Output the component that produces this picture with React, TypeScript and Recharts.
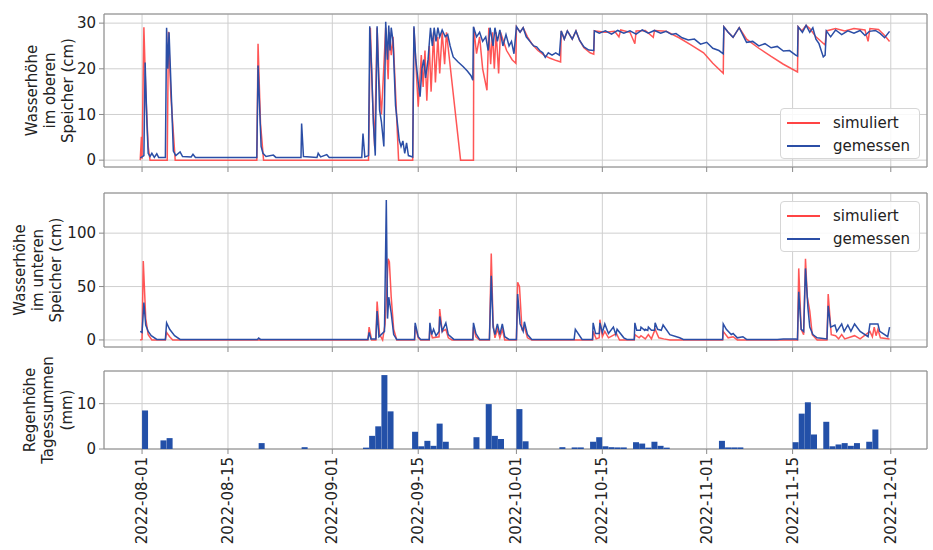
import { LineChart, Line, BarChart, Bar, XAxis, YAxis, CartesianGrid, ReferenceArea } from 'recharts';

const FONT = '"DejaVu Sans", sans-serif';
const RED = '#ff4444';
const BLUE = '#2b4ea6';
const GRID = '#cfcfcf';
const FRAME = '#8a8a8a';
const TEXT = '#222';

// x axis = days since 2022-08-01
const xDomain = [-6.2, 127.9];
const tickDays = [0, 14, 31, 45, 61, 75, 92, 106, 122];
const tickLabels = ['2022-08-01', '2022-08-15', '2022-09-01', '2022-09-15', '2022-10-01', '2022-10-15', '2022-11-01', '2022-11-15', '2022-12-01'];

const legendNames = ['simuliert', 'gemessen'];

// oberer Speicher (cm), [day, value]
const upperSim: [number, number][] = [
  [-0.3, 0], [-0.1, 5.1], [0, 0.3], [0.3, 29.1], [0.6, 15], [1, 3], [1.3, 0], [4.1, 0], [4.3, 28.1], [4.7, 14], [5.4, 0],
  [18.7, 0], [18.9, 25.5], [19.3, 8], [19.8, 0], [36.9, 0], [37.2, 29], [37.6, 12], [37.9, 3], [38.3, 29], [38.6, 18],
  [39, 10], [39.3, 17.8], [39.7, 29], [40.1, 17.7], [40.3, 28], [40.6, 23], [40.9, 27], [41.8, 0], [44.1, 0], [44.3, 29],
  [45, 11.7], [45.5, 23], [45.8, 16], [46.1, 24], [46.4, 13], [46.8, 25], [47.1, 15], [47.5, 28], [47.8, 17], [48.2, 27],
  [48.5, 19], [48.9, 28], [49.3, 21], [49.6, 28], [51.9, 0], [54, 0], [54.05, 29], [54.5, 23.3], [55, 27], [55.5, 20],
  [56.2, 15.3], [56.5, 29], [56.8, 21], [57.1, 28], [57.4, 20], [57.7, 28], [58.1, 19], [58.4, 28], [59.4, 24], [60.3, 22],
  [60.9, 21.2], [61, 29.2], [61.6, 28], [62.1, 29], [62.8, 27], [63.5, 25.5], [64.5, 24], [65.5, 23], [66.5, 22.3],
  [67.5, 21.8], [68.2, 21.5], [68.3, 28.3], [68.8, 26.5], [69.3, 28.3], [70.1, 26.5], [70.7, 28.3], [71.3, 26.2], [72, 24.6],
  [73, 23.5], [73.6, 23.2], [73.7, 28.3], [75.5, 28], [77, 28.2], [77.7, 27], [78, 28.5], [79.5, 28], [80.3, 25.5],
  [80.5, 28.3], [82, 28.4], [83.3, 26.9], [83.5, 28.4], [85.4, 28.2], [87.5, 26.8], [89.5, 25.2], [91.5, 23.5], [93, 21.2],
  [94.7, 19], [94.8, 29.2], [95.5, 28], [96.3, 26.9], [97.3, 29], [98.5, 26.5], [100.5, 24.5], [102.5, 22.7], [104.5, 21],
  [106.8, 19.3], [106.9, 29.2], [107.5, 28.3], [108.2, 29.5], [108.8, 28.8], [109.8, 27], [111.3, 25.2], [111.5, 28.3],
  [113, 28.8], [114.5, 28.3], [116, 28.8], [117.8, 28.5], [118.3, 26], [118.6, 28.8], [120, 28.6], [121, 27.3], [121.8, 26],
];

const upperMeas: [number, number][] = [
  [-0.3, 0.5], [0, 0.7], [0.3, 1], [0.5, 21.4], [0.8, 8], [1, 1.5], [1.3, 0.8], [1.6, 1.5], [2, 0.6], [2.4, 1.4], [2.7, 0.6],
  [3.8, 0.6], [4, 29], [4.2, 20], [4.4, 28], [5.1, 2], [5.5, 1], [6.2, 1.8], [6.6, 0.8], [8, 0.7], [8.3, 1.3], [8.7, 0.6],
  [18.7, 0.6], [18.9, 20.7], [19.4, 3], [19.7, 1.5], [20.2, 0.8], [21.4, 1.1], [21.8, 0.6], [25.9, 0.6], [26, 8], [26.3, 0.8],
  [28.5, 0.6], [28.7, 1.5], [29.1, 0.7], [30.1, 1.2], [30.5, 0.6], [35.8, 0.6], [36, 5.8], [36.3, 0.7], [36.9, 1],
  [37.1, 29.3], [37.4, 20], [37.7, 8], [38, 1], [38.3, 29.3], [38.7, 11], [39, 8.4], [39.4, 3], [39.7, 30.3], [40, 22],
  [40.2, 29.5], [40.4, 24], [40.6, 29], [40.9, 26], [41.3, 12], [41.9, 4.4], [42.2, 3], [42.5, 4.2], [42.8, 1.5], [43.1, 3.8],
  [43.4, 1], [44.1, 0.7], [44.3, 29.3], [44.6, 22], [45, 17], [45.3, 13.9], [45.6, 20], [45.9, 22], [46.2, 18], [46.6, 22],
  [47, 29], [47.3, 25], [47.6, 29], [47.9, 26], [48.2, 29], [48.5, 27], [48.9, 28.5], [49.4, 27], [49.8, 27.5], [50.2, 25],
  [50.7, 22.6], [51.5, 21.5], [52.3, 20.5], [53, 19.5], [53.6, 18.5], [53.9, 17.5], [54, 29.2], [54.5, 27], [55, 28],
  [55.5, 26], [56, 27], [56.4, 24], [56.7, 29], [57.2, 25], [57.5, 29], [57.9, 26], [58.3, 28.5], [58.8, 25], [59.3, 27.5],
  [59.8, 25], [60.2, 26], [60.6, 23.3], [61, 29.2], [61.6, 28], [62.1, 29], [62.6, 27], [63.2, 26], [63.8, 25], [64.3, 24.8],
  [64.8, 24], [65.3, 23.5], [65.7, 22.5], [66.2, 23.5], [66.8, 23], [67.4, 23.5], [68, 23], [68.3, 28.3], [68.8, 26.5],
  [69.3, 28.3], [70.1, 26.5], [70.7, 28.3], [71.3, 26.2], [72, 24.8], [72.8, 24.1], [73.6, 24], [73.7, 28.3], [74.5, 27.8],
  [75.5, 28.3], [76.5, 27.6], [77.5, 28.4], [78.5, 27.8], [79.5, 28.3], [80.5, 27.6], [81.5, 28.5], [82.5, 27.8], [83.5, 28.4],
  [84.5, 27.8], [85.4, 28.2], [86.3, 27.5], [87, 27.7], [88, 26.8], [89, 26.3], [90, 26.5], [91, 25.4], [92, 25.8], [93, 24.5],
  [94, 24], [94.7, 23.3], [94.8, 29.2], [95.5, 28], [96.3, 26.9], [97.3, 29], [98.5, 25.8], [99.5, 26], [100.5, 25],
  [101.5, 25.5], [102.5, 24.6], [103.5, 24.9], [104.5, 23.9], [105.5, 24], [106.5, 23], [106.8, 22.8], [106.9, 29.2],
  [107.6, 28], [108.2, 29.5], [108.8, 28], [109.3, 29], [109.8, 26.5], [110.3, 25.5], [111, 22.6], [111.3, 23], [111.5, 28.3],
  [112.2, 27], [113, 28.5], [114, 27.5], [115, 28.3], [116, 27.8], [117, 28.4], [117.8, 27.3], [118.5, 28.2], [119.5, 28.4],
  [120.3, 27.7], [121, 26.8], [121.8, 28.2],
];

// unterer Speicher (cm)
const lowerSim: [number, number][] = [
  [-0.3, 0], [0, 0.5], [0.2, 74], [0.6, 20], [1, 5], [1.6, 0], [3.8, 0], [4, 7], [4.5, 3], [5, 0], [36.8, 0], [37, 12],
  [37.4, 0], [38.1, 0], [38.3, 36], [38.7, 5], [39.2, 0], [39.6, 15], [39.9, 50], [40.1, 76], [40.3, 73], [40.6, 40],
  [41, 10], [41.5, 0], [44.4, 0], [44.5, 13], [45, 2], [45.4, 0], [46.8, 0], [46.9, 12], [47.3, 2], [48.4, 3], [48.5, 29],
  [48.9, 8], [49.5, 10], [49.9, 2], [50.5, 0], [53.9, 0], [54, 12], [54.4, 3], [55, 0], [56.6, 0], [56.9, 81], [57.2, 15],
  [57.5, 2], [57.9, 10], [58.3, 2], [58.7, 10], [59.1, 0], [61, 0], [61.2, 54], [61.5, 50], [61.9, 10], [62.3, 12],
  [62.8, 2], [63.5, 0], [73.4, 0], [73.5, 8], [74, 1], [74.5, 2], [74.6, 19], [75, 3], [75.4, 8], [76, 2], [77.3, 6],
  [77.8, 0], [80.2, 0], [80.3, 5], [81, 2], [81.3, 4], [82, 1], [82.5, 5], [83, 1], [83.6, 10], [84.2, 2], [85, 1], [86, 0],
  [94.6, 0], [94.7, 8], [95.5, 2], [96.3, 3], [97, 0], [106.8, 0], [107, 67], [107.4, 10], [107.8, 5], [108.1, 76],
  [108.4, 40], [108.8, 27], [109.2, 5], [110, 0], [111.6, 0], [111.8, 43], [112.3, 5], [113, 4], [113.5, 1], [114, 5],
  [114.5, 1], [116.1, 4], [117, 1], [118.6, 8], [119, 3], [119.3, 12], [119.6, 4], [119.9, 10], [120.3, 2], [121.8, 1],
];

const lowerMeas: [number, number][] = [
  [-0.3, 8], [0, 7], [0.3, 35], [0.6, 14], [1, 8], [1.5, 4], [2.4, 0.5], [3.8, 0.5], [4, 16], [4.5, 10], [5.3, 4], [6.2, 0.5],
  [18.8, 0.5], [19, 1.8], [19.3, 0.5], [36.8, 0.5], [37, 7], [37.3, 1], [38.1, 1], [38.3, 27], [38.6, 3], [39.5, 8],
  [39.8, 131], [40, 20], [40.2, 40], [40.6, 25], [41, 5], [41.5, 0.5], [44.4, 0.5], [44.5, 16], [45, 3], [45.4, 0.5],
  [46.8, 0.5], [46.9, 16], [47.2, 5], [47.5, 10], [47.9, 4], [48.4, 8], [48.5, 22], [48.9, 8], [49.5, 16], [49.9, 5],
  [50.8, 0.5], [53.9, 0.5], [54, 16], [54.4, 6], [55, 0.5], [56.6, 0.5], [56.9, 60], [57.2, 12], [57.5, 5], [57.9, 15],
  [58.3, 5], [58.7, 15], [59.1, 3], [59.8, 0.5], [61, 0.5], [61.2, 43], [61.6, 15], [62.1, 8], [62.3, 17], [62.8, 5],
  [63.5, 0.5], [70.4, 0.5], [70.6, 10], [71.7, 0.5], [73.4, 0.5], [73.5, 16], [73.9, 6], [74.5, 6], [74.6, 16], [75, 7],
  [75.4, 15], [76, 6], [76.8, 12], [77.2, 5], [77.4, 10], [78.5, 2], [79, 0.5], [80.2, 0.5], [80.3, 16], [80.6, 9],
  [81.2, 9], [81.3, 12], [81.9, 9], [82, 10], [82.4, 9], [82.5, 12], [83, 9], [83.5, 9], [83.6, 16], [84, 10], [84.6, 9],
  [84.9, 14], [86, 5], [87.6, 2], [88.2, 0.5], [94.6, 0.5], [94.7, 15], [95.2, 10], [96, 5], [96.3, 6], [97, 2], [97.9, 3],
  [98.5, 0.5], [103.5, 0.5], [104.5, 1], [106.5, 1], [106.8, 0.5], [107, 45], [107.4, 10], [107.8, 8], [108.1, 67],
  [108.5, 30], [108.8, 12], [109.3, 5], [110, 2], [111.6, 1], [111.8, 32], [112.2, 12], [112.9, 14], [113.2, 8], [114, 15],
  [114.4, 8], [115, 14], [115.5, 8], [116.1, 15], [117, 8], [118.3, 3], [118.6, 15], [119.9, 15], [120.2, 8], [121.5, 3],
  [121.8, 12],
];

// Regenhöhe Tagessummen (mm), [day, mm]
const rain: [number, number][] = [
  [0, 8.5], [3, 1.9], [4, 2.4], [19, 1.3], [26, 0.4], [36, 0.3], [37, 2.9], [38, 5], [39, 16.3], [40, 8.3], [44, 3.8],
  [45, 0.6], [46, 1.8], [47, 0.7], [48, 5.6], [49, 1.6], [54, 2.6], [56, 9.9], [57, 2.9], [58, 2.2], [61, 8.8], [62, 1.7],
  [68, 0.4], [70, 0.35], [71, 0.35], [73, 1.6], [74, 2.6], [75, 0.6], [76, 0.4], [77, 0.35], [78, 0.35], [80, 1.5],
  [81, 1.2], [82, 0.3], [83, 1.6], [84, 0.7], [85, 0.3], [94, 1.8], [95, 0.35], [96, 0.35], [97, 0.35], [106, 1.5],
  [107, 7.8], [108, 10.3], [109, 3.2], [111, 6], [112, 0.6], [113, 1], [114, 1.3], [115, 0.7], [116, 1.3], [118, 1.6],
  [119, 4.3],
];

const toRows = (pts: [number, number][]) => pts.map(([d, v]) => ({ d, v }));
// bars cover the whole day, so centre them half a day later
const rainRows = rain.map(([d, v]) => ({ d: d + 0.5, v }));

const tickStyle = { fill: TEXT, fontSize: 15, fontFamily: FONT };

function AxisTitle(props: any) {
  const { lines, xs, viewBox } = props;
  const vb = viewBox ?? { x: 0, y: 0, width: 104, height: 150 };
  const cy = vb.y + vb.height / 2;
  return (
    <g>
      {lines.map((t: string, i: number) => (
        <text key={i} transform={`translate(${vb.x + xs[i]}, ${cy}) rotate(-90)`} textAnchor="middle"
          dominantBaseline="central" fill={TEXT} fontSize={15} fontFamily={FONT}>{t}</text>
      ))}
    </g>
  );
}

// shared x axis: only the bottom panel carries date labels
function NoLabel() {
  return <g />;
}

function DateTick(props: any) {
  const { x, y, payload } = props;
  const i = tickDays.indexOf(payload.value);
  return (
    <text x={x} y={y} transform={`rotate(-90, ${x}, ${y})`} textAnchor="end" dominantBaseline="central"
      fill={TEXT} fontSize={15} fontFamily={FONT}>{tickLabels[i]}</text>
  );
}

function LegendBox({ top }: { top: number }) {
  const colors = [RED, BLUE];
  return (
    <div style={{
      position: 'absolute', left: 780, top, width: 140, height: 51, boxSizing: 'border-box', paddingTop: 2,
      border: '1px solid #d6d6d6', borderRadius: 4, background: 'rgba(255,255,255,0.85)',
      fontFamily: FONT, fontSize: 15, color: TEXT,
    }}>
      {legendNames.map((n, i) => (
        <div key={n} style={{ display: 'flex', alignItems: 'center', height: 23 }}>
          <span style={{ display: 'inline-block', marginLeft: 6, width: 33, height: 2, background: colors[i] }} />
          <span style={{ marginLeft: 13 }}>{n}</span>
        </div>
      ))}
    </div>
  );
}

function LevelPanel({ sim, meas, yDomain, yTicks, title, titleXs, marginTop, height }: any) {
  return (
    <LineChart width={933} height={height} margin={{ top: marginTop, right: 6, bottom: 0, left: 0 }}>
      <CartesianGrid stroke={GRID} />
      <XAxis type="number" dataKey="d" domain={xDomain} ticks={tickDays} allowDataOverflow height={8}
        tick={<NoLabel />} tickSize={5} tickLine={{ stroke: FRAME }} axisLine={false} interval={0} />
      <YAxis type="number" dataKey="v" domain={yDomain} ticks={yTicks} allowDataOverflow width={104}
        tick={tickStyle} tickSize={5} tickMargin={3} tickLine={{ stroke: FRAME }} axisLine={false}
        label={<AxisTitle lines={title} xs={titleXs} />} />
      <Line data={toRows(sim)} dataKey="v" type="linear" stroke={RED} strokeOpacity={0.9} strokeWidth={1.5}
        dot={false} isAnimationActive={false} />
      <Line data={toRows(meas)} dataKey="v" type="linear" stroke={BLUE} strokeWidth={1.5}
        dot={false} isAnimationActive={false} />
      <ReferenceArea x1={xDomain[0]} x2={xDomain[1]} y1={yDomain[0]} y2={yDomain[1]} fill="none"
        stroke={FRAME} strokeOpacity={1} ifOverflow="visible" />
    </LineChart>
  );
}

export default function App() {
  const rainDomain = [0, 17.2];
  return (
    <div style={{ position: 'absolute', left: 0, top: 0, width: 933, height: 550, background: '#fff', overflow: 'hidden' }}>
      <div style={{ position: 'absolute', left: 0, top: 0 }}>
        <LevelPanel sim={upperSim} meas={upperMeas} yDomain={[-1.5, 32]} yTicks={[0, 10, 20, 30]}
          title={['Wasserhöhe', 'im oberen', 'Speicher (cm)']} titleXs={[32, 50, 68]} marginTop={14} height={175} />
      </div>
      <div style={{ position: 'absolute', left: 0, top: 180 }}>
        <LevelPanel sim={lowerSim} meas={lowerMeas} yDomain={[-6.6, 137.6]} yTicks={[0, 50, 100]}
          title={['Wasserhöhe', 'im unteren', 'Speicher (cm)']} titleXs={[20, 38, 56]} marginTop={13} height={175} />
      </div>
      <div style={{ position: 'absolute', left: 0, top: 345 }}>
        <BarChart width={933} height={205} data={rainRows} margin={{ top: 26, right: 6, bottom: 0, left: 0 }}>
          <CartesianGrid stroke={GRID} />
          <XAxis type="number" dataKey="d" domain={xDomain} ticks={tickDays} allowDataOverflow height={101}
            tick={<DateTick />} tickSize={5} tickMargin={3} tickLine={{ stroke: FRAME }} axisLine={false} interval={0} />
          <YAxis type="number" domain={rainDomain} ticks={[0, 10]} allowDataOverflow width={104}
            tick={tickStyle} tickSize={5} tickMargin={3} tickLine={{ stroke: FRAME }} axisLine={false}
            label={<AxisTitle lines={['Regenhöhe', 'Tagessummen', '(mm)']} xs={[30, 48, 67]} />} />
          <Bar dataKey="v" fill="#2350a8" barSize={6} isAnimationActive={false} />
          <ReferenceArea x1={xDomain[0]} x2={xDomain[1]} y1={rainDomain[0]} y2={rainDomain[1]} fill="none"
            stroke={FRAME} strokeOpacity={1} ifOverflow="visible" />
        </BarChart>
      </div>
      <LegendBox top={108} />
      <LegendBox top={201} />
    </div>
  );
}
